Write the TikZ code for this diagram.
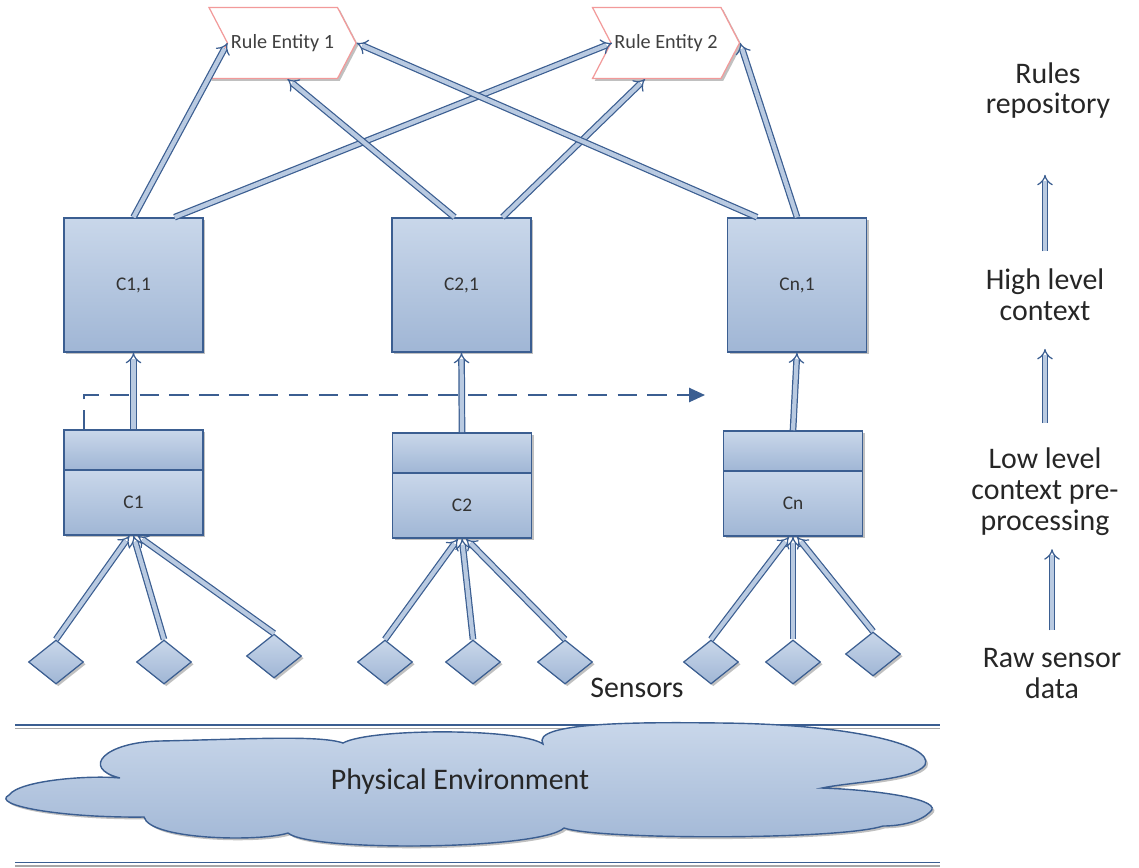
\documentclass[tikz,border=0pt]{standalone}
\usepackage{fontspec}
\setmainfont{Carlito}
\usetikzlibrary{positioning,calc,shapes.geometric,shapes.symbols,shadows,arrows.meta}

\definecolor{edgeblue}{HTML}{3B5E91}
\definecolor{boxtop}{HTML}{C9D7EA}
\definecolor{boxbot}{HTML}{A0B6D5}
\definecolor{pipefill}{HTML}{B9CAE1}
\definecolor{ruleedge}{HTML}{F29A9A}

\tikzset{
  boxshadow/.style={drop shadow={shadow xshift=1.3pt, shadow yshift=-1.3pt, fill=black!55, opacity=0.45}},
  ctxbox/.style={rectangle, draw=edgeblue, line width=0.9pt, top color=boxtop, bottom color=boxbot,
    minimum width=2.78cm, inner sep=0pt, font=\fontsize{11}{13}\selectfont, text=black!80, boxshadow},
  highbox/.style={ctxbox, minimum height=2.68cm},
  lowtop/.style={ctxbox, minimum height=0.8cm},
  lowbot/.style={ctxbox, minimum height=1.3cm},
  rulebox/.style={signal, signal from=west, signal to=east, signal pointer angle=125,
    draw=ruleedge, line width=0.7pt, fill=white, minimum width=2.94cm, minimum height=1.42cm,
    inner sep=0pt, font=\fontsize{11.5}{13}\selectfont, text=black!75, boxshadow},
  sensor/.style={diamond, aspect=1.3, draw=edgeblue, line width=0.7pt, top color=boxtop,
    bottom color=boxbot, minimum width=1.1cm, minimum height=0.88cm, inner sep=0pt, boxshadow},
  pipe/.style={draw=edgeblue, line width=0.7pt, double=pipefill, double distance=2.4pt, -{Implies}},
  dashflow/.style={draw=edgeblue, line width=1.1pt, dash pattern=on 11pt off 6pt,
    -{Triangle[width=8pt,length=9pt]}},
  levellabel/.style={align=center, inner sep=0pt, font=\fontsize{17}{17.6}\selectfont, text=black!85},
  plainlabel/.style={inner sep=0pt, font=\fontsize{17}{20}\selectfont, text=black!85},
  envline/.style={draw=edgeblue, line width=1.1pt},
  envshadow/.style={draw=black!35, line width=1.1pt},
}

\begin{document}
\begin{tikzpicture}[x=0.02cm, y=-0.02cm]
\useasboundingbox (0,0) rectangle (1139,867);

% Environment
\draw[envshadow] (15,728.5) -- (940,728.5);
\draw[envline] (15,725) -- (940,725);
\draw[envshadow] (15,866) -- (940,866);
\draw[envline] (15,862.5) -- (940,862.5);
\filldraw[draw=edgeblue, line width=0.8pt, top color=boxtop, bottom color=boxbot, boxshadow]
  (120,778) .. controls (80,768) and (105,742) .. (160,741)
  .. controls (250,739) and (320,735) .. (343,743)
  .. controls (370,728) and (520,728) .. (543,744)
  .. controls (530,722) and (640,722) .. (720,723)
  .. controls (850,724) and (935,745) .. (925,765)
  .. controls (915,780) and (850,782) .. (822,788)
  .. controls (880,790) and (945,800) .. (930,812)
  .. controls (920,822) and (900,826) .. (883,826)
  .. controls (840,840) and (600,840) .. (564,828)
  .. controls (540,850) and (310,852) .. (288,833)
  .. controls (260,842) and (150,840) .. (144,817)
  .. controls (60,818) and (-10,805) .. (9,795)
  .. controls (20,780) and (90,775) .. (120,778) -- cycle;
\node[plainlabel] (env) at (460,782) {Physical Environment};

% Rules repository
\node[rulebox] (re1) at (282.5,43) {Rule Entity 1};
\node[rulebox] (re2) at (666,43) {Rule Entity 2};

% High level context
\node[highbox] (c11) at (133.5,285) {C1,1};
\node[highbox] (c21) at (461.5,285) {C2,1};
\node[highbox] (cn1) at (797,285) {Cn,1};

% Low level pre-processing
\node[lowtop] (c1top) at (133.5,450) {};
\node[lowbot, below=-0.9pt of c1top] (c1) {C1};
\node[lowtop] (c2top) at (462,453) {};
\node[lowbot, below=-0.9pt of c2top] (c2) {C2};
\node[lowtop] (cntop) at (793,451) {};
\node[lowbot, below=-0.9pt of cntop] (cn) {Cn};

% Sensors
\node[sensor] (s11) at (56,662) {};
\node[sensor] (s12) at (164,662) {};
\node[sensor] (s13) at (274,656) {};
\node[sensor] (s21) at (385,662) {};
\node[sensor] (s22) at (473,662) {};
\node[sensor] (s23) at (565,662) {};
\node[sensor] (sn1) at (711,662) {};
\node[sensor] (sn2) at (793,662) {};
\node[sensor] (sn3) at (873,654) {};
\node[plainlabel] (sensors) at (637,688) {Sensors};

% Dashed flow
\coordinate (dashend) at (705,395);
\draw[dashflow] ($(c1top.north west)+(21,0)$) |- (dashend);

% Arrows
\draw[pipe] (s11.north) -- ($(c1.south)+(-4,0)$);
\draw[pipe] (s12.north) -- (c1.south);
\draw[pipe] (s13.north) -- ($(c1.south)+(4,0)$);
\draw[pipe] (s21.north) -- ($(c2.south)+(-4,0)$);
\draw[pipe] (s22.north) -- (c2.south);
\draw[pipe] (s23.north) -- ($(c2.south)+(4,0)$);
\draw[pipe] (sn1.north) -- ($(cn.south)+(-4,0)$);
\draw[pipe] (sn2.north) -- (cn.south);
\draw[pipe] (sn3.north) -- ($(cn.south)+(4,0)$);

\draw[pipe] (c1top.north) -- (c11.south);
\draw[pipe] (c2top.north) -- (c21.south);
\draw[pipe] (cntop.north) -- (cn1.south);

\draw[pipe] (c11.north) -- ($(re1.center)+(-55,0)$);
\draw[pipe] ($(c11.north)+(41,0)$) -- ($(re2.center)+(-54,0)$);
\draw[pipe] ($(c21.north)+(-7,0)$) -- ($(re1.south)+(5,0)$);
\draw[pipe] ($(c21.north)+(41,0)$) -- ($(re2.south)+(-21,0)$);
\draw[pipe] ($(cn1.north)+(-40,0)$) -- (re1.east);
\draw[pipe] (cn1.north) -- (re2.east);

% Levels
\node[levellabel] (rules) at (1048,90.5) {Rules\\repository};
\node[levellabel] (high) at (1045,294.5) {High level\\context};
\node[levellabel] (low) at (1045,492) {Low level\\context pre-\\processing};
\node[levellabel] (raw) at (1052,673.5) {Raw sensor\\data};

\draw[pipe, shorten <=9.6pt, shorten >=31.7pt] (high.north) -- (high.north |- rules.south);
\draw[pipe, shorten <=14pt, shorten >=16pt] (low.north) -- (low.north |- high.south);
\draw[pipe, shorten <=10pt, shorten >=7.4pt] (raw.north) -- (raw.north |- low.south);
\end{tikzpicture}
\end{document}
